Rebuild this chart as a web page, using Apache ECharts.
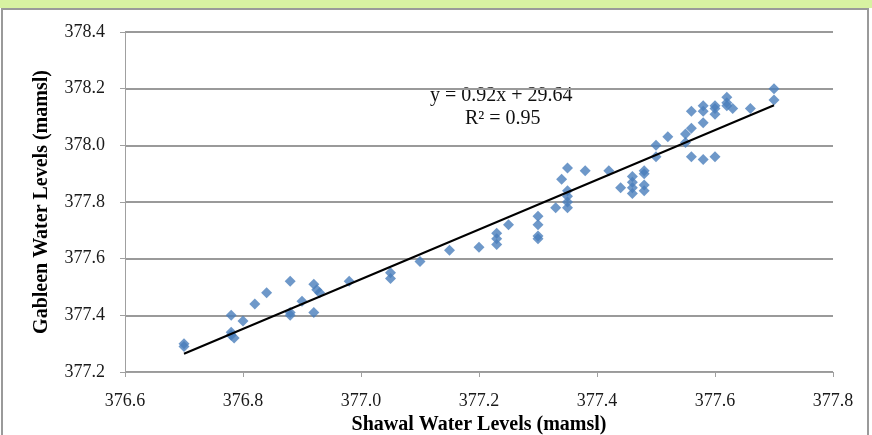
<!DOCTYPE html>
<html>
<head>
<meta charset="utf-8">
<script src="https://cdn.jsdelivr.net/npm/echarts@6/dist/echarts.min.js"></script>
<style>
  html, body { margin: 0; padding: 0; background: #ffffff; }
  #chart { width: 872px; height: 435px; }
</style>
</head>
<body>
<div id="chart"></div>
<script>
// Shawal vs Gableen water levels (mamsl)
const shawal = [
  376.70, 376.70,
  376.78, 376.78, 376.78, 376.785,
  376.80, 376.82, 376.84,
  376.88, 376.88, 376.88,
  376.90,
  376.92, 376.92, 376.925, 376.93,
  376.98,
  377.05, 377.05,
  377.10, 377.15, 377.20,
  377.23, 377.23, 377.23,
  377.25,
  377.30, 377.30, 377.30, 377.30,
  377.33, 377.34,
  377.35, 377.35, 377.35, 377.35, 377.35,
  377.38, 377.42, 377.44,
  377.46, 377.46, 377.46, 377.46,
  377.48, 377.48, 377.48, 377.48,
  377.50, 377.50, 377.52,
  377.55, 377.55,
  377.56, 377.56, 377.56,
  377.58, 377.58, 377.58, 377.58,
  377.60, 377.60, 377.60, 377.60,
  377.62, 377.62, 377.62,
  377.63, 377.66,
  377.70, 377.70
];
const gableen = [
  377.30, 377.29,
  377.40, 377.34, 377.33, 377.32,
  377.38, 377.44, 377.48,
  377.52, 377.41, 377.40,
  377.45,
  377.41, 377.51, 377.49, 377.48,
  377.52,
  377.55, 377.53,
  377.59, 377.63, 377.64,
  377.69, 377.67, 377.65,
  377.72,
  377.75, 377.72, 377.68, 377.67,
  377.78, 377.88,
  377.92, 377.84, 377.82, 377.80, 377.78,
  377.91, 377.91, 377.85,
  377.89, 377.87, 377.85, 377.83,
  377.91, 377.90, 377.86, 377.84,
  378.00, 377.96, 378.03,
  378.04, 378.01,
  378.06, 377.96, 378.12,
  377.95, 378.08, 378.14, 378.12,
  378.14, 378.13, 378.11, 377.96,
  378.17, 378.15, 378.14,
  378.13, 378.13,
  378.20, 378.16
];
const xTicks = { min: 376.6, max: 377.8, step: 0.2 };
const yTicks = { min: 377.2, max: 378.4, step: 0.2 };
const equationText = 'y = 0.92x + 29.64';
const r2Text = 'R\u00B2 = 0.95';
const xTitle = 'Shawal Water Levels (mamsl)';
const yTitle = 'Gableen Water Levels (mamsl)';

// pair up the observations
const points = shawal.map((x, i) => [x, gableen[i]]);

// least-squares linear trend through the observations
function linearFit(xs, ys) {
  const n = xs.length;
  const mx = xs.reduce((a, b) => a + b, 0) / n;
  const my = ys.reduce((a, b) => a + b, 0) / n;
  let sxy = 0, sxx = 0;
  for (let i = 0; i < n; i++) {
    sxy += (xs[i] - mx) * (ys[i] - my);
    sxx += (xs[i] - mx) * (xs[i] - mx);
  }
  const slope = sxy / sxx;
  return { slope, intercept: my - slope * mx };
}
const fit = linearFit(shawal, gableen);
const xLo = Math.min(...shawal), xHi = Math.max(...shawal);
const trend = [
  [xLo, fit.slope * xLo + fit.intercept],
  [xHi, fit.slope * xHi + fit.intercept]
];

const serif = '"Liberation Serif", "Times New Roman", serif';
const chart = echarts.init(document.getElementById('chart'), null, { renderer: 'canvas' });

chart.setOption({
  backgroundColor: '#ffffff',
  animation: false,
  grid: { left: 125, right: 39, top: 32, bottom: 63, containLabel: false, outerBoundsMode: 'none' },
  xAxis: {
    type: 'value',
    min: xTicks.min, max: xTicks.max, interval: xTicks.step,
    name: xTitle,
    nameLocation: 'middle',
    nameGap: 40,
    nameTextStyle: { fontFamily: serif, fontWeight: 'bold', fontSize: 20, color: '#000' },
    axisLine: { show: true, lineStyle: { color: '#a0a0a0', width: 1 } },
    axisTick: { show: true, inside: false, length: 5, lineStyle: { color: '#a0a0a0' } },
    axisLabel: {
      fontFamily: serif, fontSize: 18, color: '#1a1a1a', margin: 20,
      formatter: v => v.toFixed(1)
    },
    splitLine: { show: false }
  },
  yAxis: {
    type: 'value',
    min: yTicks.min, max: yTicks.max, interval: yTicks.step,
    name: yTitle,
    nameLocation: 'middle',
    nameGap: 73,
    nameRotate: 90,
    nameTextStyle: { fontFamily: serif, fontWeight: 'bold', fontSize: 20, color: '#000' },
    axisLine: { show: true, lineStyle: { color: '#a0a0a0', width: 1 } },
    axisTick: { show: true, inside: false, length: 5, lineStyle: { color: '#a0a0a0' } },
    axisLabel: {
      fontFamily: serif, fontSize: 18, color: '#1a1a1a', margin: 20,
      formatter: v => v.toFixed(1)
    },
    splitLine: { show: true, lineStyle: { color: '#9a9a9a', width: 2 } }
  },
  series: [
    {
      type: 'scatter',
      data: points,
      symbol: 'diamond',
      symbolSize: 11,
      itemStyle: { color: '#4a7ebb' },
      z: 3
    },
    {
      type: 'line',
      data: trend,
      showSymbol: false,
      symbol: 'none',
      lineStyle: { color: '#000', width: 2 },
      z: 4
    }
  ],
  graphic: [
    {
      type: 'rect',
      shape: { x: 0, y: 0, width: 872, height: 8 },
      style: { fill: '#d8f2a2' },
      silent: true
    },
    {
      type: 'rect',
      shape: { x: 2, y: 9, width: 866, height: 430 },
      style: { fill: 'none', stroke: '#9a9a9a', lineWidth: 2 },
      silent: true
    },
    {
      type: 'text',
      left: 430, top: 86,
      style: { text: equationText, font: '20px ' + serif, fill: '#111' },
      silent: true
    },
    {
      type: 'text',
      left: 465, top: 109,
      style: { text: r2Text, font: '20px ' + serif, fill: '#111' },
      silent: true
    }
  ]
});
</script>
</body>
</html>
